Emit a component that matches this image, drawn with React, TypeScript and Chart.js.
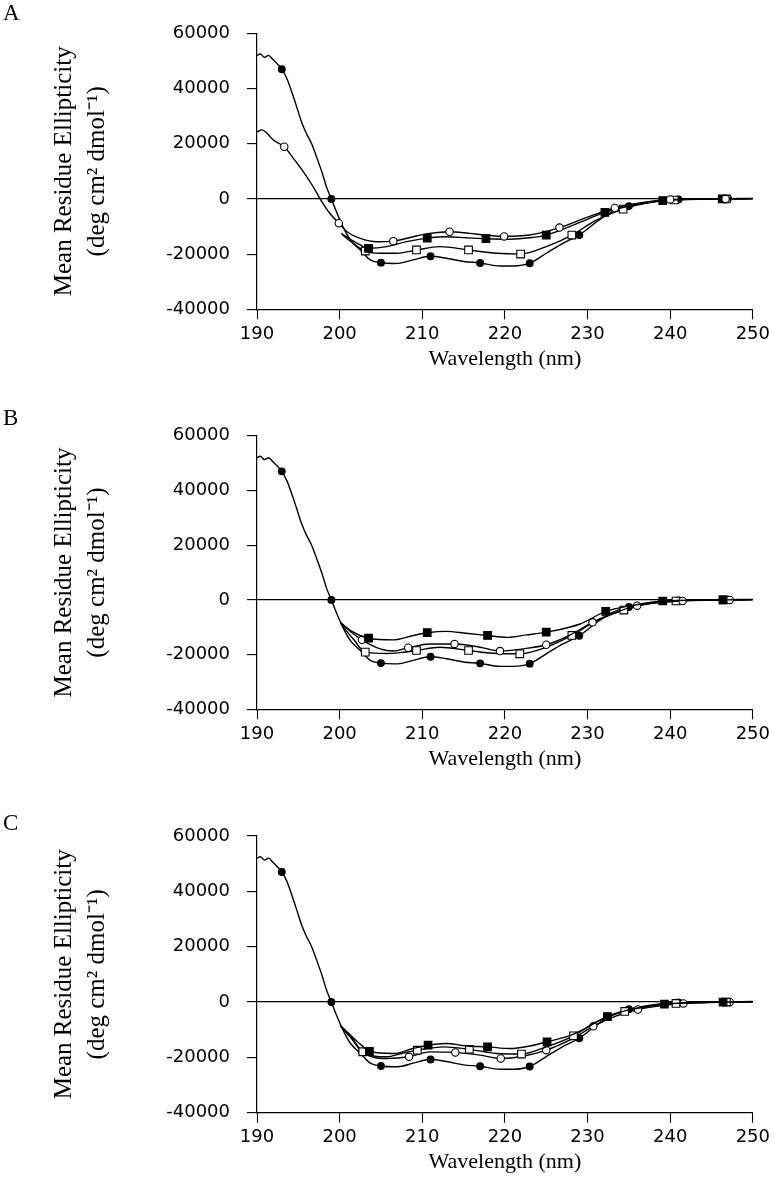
import React, { useEffect, useRef } from 'react';
import { Chart, registerables } from 'chart.js';
Chart.register(...registerables);

if (typeof document !== 'undefined' && document.body) {
  document.body.style.margin = '0';
}

// ---- shared reference curve (filled circles) ----
const refWl = [190.0, 190.4, 190.9, 191.4, 191.9, 192.4, 193.0, 193.6, 194.2, 194.8, 195.4, 196.0, 196.6, 197.2, 197.9, 198.4, 199.0, 199.6, 200.5, 201.3, 202.5, 203.7, 205.0, 206.5, 207.5, 208.9, 211.0, 212.9, 215.0, 217.0, 219.4, 221.0, 223.0, 225.0, 227.0, 229.0, 231.0, 233.0, 235.0, 237.0, 239.0, 241.0, 244.0, 247.0, 250.0];
const refVal = [52000, 52500, 51300, 52000, 50600, 49100, 47000, 43700, 38800, 33400, 27800, 23600, 20100, 15300, 9300, 4400, 0, -4600, -10700, -14900, -18500, -22100, -23100, -23400, -23200, -22100, -20800, -21500, -22700, -23200, -24300, -24300, -23300, -19700, -16100, -13100, -8500, -4600, -2600, -1400, -600, -200, 0, 100, 200];
const refMarks = [193.0, 199.0, 205.0, 211.0, 217.0, 223.0, 229.0, 235.0, 241.0, 247.0];

// ---- panel A ----
const ocAWl = [190.0, 190.6, 191.2, 192.0, 193.3, 194.4, 195.6, 196.8, 197.6, 198.8, 199.9, 200.9, 202.5, 204.5, 206.5, 208.9, 210.9, 213.3, 215.7, 217.7, 219.9, 223.0, 226.6, 230.0, 233.3, 236.5, 240.0, 246.7, 250.0];
const ocAVal = [24300, 25000, 23800, 21300, 18900, 14700, 9900, 4400, 200, -5200, -8800, -11900, -14300, -15500, -15300, -13700, -12500, -11900, -12500, -13100, -13600, -13100, -10400, -6600, -3300, -1400, -200, 0, 100];
const ocAMarks = [193.3, 199.9, 206.5, 213.3, 219.9, 226.6, 233.3, 240.0, 246.7];

const fsAWl = [200.2, 201.5, 202.5, 203.5, 205.7, 208.1, 210.6, 212.9, 215.4, 217.7, 220.6, 223.0, 225.0, 228.5, 232.1, 235.5, 239.1, 246.3, 250.0];
const fsAVal = [-12500, -15000, -16700, -17900, -17300, -15500, -14200, -13700, -14100, -14400, -14600, -14100, -13100, -9200, -4900, -2300, -600, 0, 100];
const fsAMarks = [203.5, 210.6, 217.7, 225.0, 232.1, 239.1, 246.3];

const osAWl = [200.3, 201.8, 203.1, 204.9, 206.9, 209.3, 212.1, 215.6, 219.0, 221.9, 225.0, 228.1, 231.0, 234.3, 237.0, 240.5, 246.8, 250.0];
const osAVal = [-13000, -16500, -18900, -19700, -19700, -18500, -17300, -18500, -19700, -20000, -17300, -13100, -7800, -3700, -1600, -400, 0, 100];
const osAMarks = [203.1, 209.3, 215.6, 221.9, 228.1, 234.3, 240.5, 246.8];

// ---- panel B ----
const fsBWl = [200.1, 201.5, 203.5, 206.5, 208.9, 210.6, 212.9, 215.3, 217.9, 220.2, 222.6, 225.0, 229.1, 232.2, 235.5, 239.1, 246.4, 250.0];
const fsBVal = [-8500, -11500, -14000, -14600, -13000, -12000, -11500, -12200, -13000, -13700, -12800, -11800, -8800, -4200, -2000, -400, 0, 100];
const fsBMarks = [203.5, 210.6, 217.9, 225.0, 232.2, 239.1, 246.4];

const ocBWl = [200.1, 201.5, 202.7, 204.9, 206.5, 208.3, 210.9, 213.9, 217.0, 219.4, 222.2, 225.0, 227.8, 230.6, 233.5, 236.0, 241.5, 247.2, 250.0];
const ocBVal = [-8200, -12000, -14600, -17900, -18700, -17500, -16100, -16100, -17300, -18700, -17900, -16400, -13000, -8200, -4500, -2100, -400, 0, 100];
const ocBMarks = [202.7, 208.3, 213.9, 219.4, 225.0, 230.6, 236.0, 241.5, 247.2];

const osBWl = [200.2, 201.7, 203.1, 205.7, 207.5, 209.3, 212.1, 215.6, 218.6, 221.8, 225.0, 228.1, 231.0, 234.4, 237.0, 240.7, 246.4, 250.0];
const osBVal = [-9000, -14500, -19100, -19600, -19200, -18500, -17300, -18500, -19500, -19700, -17300, -13000, -7800, -3700, -1600, -400, 0, 100];
const osBMarks = [203.1, 209.3, 215.6, 221.8, 228.1, 234.4, 240.7, 246.4];

// ---- panel C ----
const fsCWl = [200.1, 201.5, 202.6, 203.6, 206.5, 208.9, 210.7, 212.9, 215.4, 217.9, 220.6, 223.0, 225.1, 228.3, 232.4, 235.5, 239.3, 246.4, 250.0];
const fsCVal = [-8500, -12500, -15500, -17800, -18600, -16800, -15600, -15000, -15900, -16200, -16800, -15900, -14400, -11600, -5300, -2500, -800, 0, 100];
const fsCMarks = [203.6, 210.7, 217.9, 225.1, 232.4, 239.3, 246.4];

const osCWl = [200.2, 201.5, 202.8, 205.7, 207.5, 209.4, 212.6, 215.7, 219.0, 222.0, 225.0, 228.3, 231.2, 234.5, 237.5, 240.7, 246.8, 250.0];
const osCVal = [-9000, -13000, -18000, -19800, -18600, -17400, -16200, -17100, -18600, -18800, -16200, -12200, -7000, -3400, -1500, -500, 0, 100];
const osCMarks = [202.8, 209.4, 215.7, 222.0, 228.3, 234.5, 240.7, 246.8];

const ocCWl = [200.1, 201.5, 202.7, 205.7, 208.4, 210.9, 214.0, 217.0, 219.5, 222.2, 225.0, 228.0, 230.7, 233.5, 236.1, 241.6, 247.2, 250.0];
const ocCVal = [-8800, -13500, -18000, -20400, -19800, -18000, -18200, -19200, -20400, -19600, -17400, -13500, -8800, -5000, -2700, -500, 0, 100];
const ocCMarks = [202.7, 208.4, 214.0, 219.5, 225.0, 230.7, 236.1, 241.6, 247.2];

const xTicks = [190, 200, 210, 220, 230, 240, 250];
const yTicks = [-40000, -20000, 0, 20000, 40000, 60000];
const yTitle = ['Mean Residue Ellipticity', '(deg cm\u00B2 dmol\u207B\u00B9)'];
const xTitle = 'Wavelength (nm)';

type Sty = 'fc' | 'oc' | 'fs' | 'os';
interface Series { wl: number[]; val: number[]; marks: number[]; sty: Sty }

const STY: Record<Sty, { shape: string; bg: string; r: number }> = {
  fc: { shape: 'circle', bg: '#000', r: 3.4 },
  oc: { shape: 'circle', bg: '#fff', r: 3.7 },
  fs: { shape: 'rect', bg: '#000', r: 5.4 },
  os: { shape: 'rect', bg: '#fff', r: 5.4 },
};

const SERIF = '"Liberation Serif", "Times New Roman", serif';
const SANS = '"DejaVu Sans", sans-serif';

const ref: Series = { wl: refWl, val: refVal, marks: refMarks, sty: 'fc' };
const panelA: Series[] = [
  { wl: ocAWl, val: ocAVal, marks: ocAMarks, sty: 'oc' },
  { wl: fsAWl, val: fsAVal, marks: fsAMarks, sty: 'fs' },
  { wl: osAWl, val: osAVal, marks: osAMarks, sty: 'os' },
  ref,
];
const panelB: Series[] = [
  { wl: fsBWl, val: fsBVal, marks: fsBMarks, sty: 'fs' },
  { wl: ocBWl, val: ocBVal, marks: ocBMarks, sty: 'oc' },
  { wl: osBWl, val: osBVal, marks: osBMarks, sty: 'os' },
  ref,
];
const panelC: Series[] = [
  { wl: fsCWl, val: fsCVal, marks: fsCMarks, sty: 'fs' },
  { wl: osCWl, val: osCVal, marks: osCMarks, sty: 'os' },
  { wl: ocCWl, val: ocCVal, marks: ocCMarks, sty: 'oc' },
  ref,
];

interface PanelProps {
  letter: string;
  series: Series[];
  height: number;
  padTop: number;
  plotH: number;
  letterTop: number;
}

const W = 774;

function Panel({ letter, series, height, padTop, plotH, letterTop }: PanelProps) {
  const cref = useRef<HTMLCanvasElement>(null);
  useEffect(() => {
    const xh = height - padTop - plotH;
    const tb = Math.max(0, xh - 13.2 - 49.5);
    const chart = new Chart(cref.current as HTMLCanvasElement, {
      type: 'line',
      data: {
        datasets: series.map((s) => {
          const st = STY[s.sty];
          return {
            data: s.wl.map((x, i) => ({ x, y: s.val[i] })),
            borderColor: '#000',
            borderWidth: 1.4,
            fill: false,
            tension: 0.4,
            cubicInterpolationMode: 'monotone',
            pointStyle: st.shape,
            pointRadius: (c: any) => (c.raw && s.marks.includes(c.raw.x) ? st.r : 0),
            pointBackgroundColor: st.bg,
            pointBorderColor: '#000',
            pointBorderWidth: 1.1,
          } as any;
        }),
      },
      options: {
        responsive: false,
        animation: false,
        events: [],
        layout: { padding: { left: 44, right: 21, top: padTop, bottom: 0 } },
        plugins: { legend: { display: false }, tooltip: { enabled: false } },
        scales: {
          x: {
            type: 'linear',
            min: xTicks[0],
            max: xTicks[xTicks.length - 1],
            afterBuildTicks: (s: any) => { s.ticks = xTicks.map((v) => ({ value: v })); },
            ticks: { color: '#000', font: { family: SANS, size: 18 }, padding: 4, maxRotation: 0, callback: (v: any) => String(v) },
            grid: { drawOnChartArea: false, tickLength: 10, tickColor: '#000', tickWidth: 1.1 },
            border: { display: true, color: '#000', width: 1.2 },
            title: { display: true, text: xTitle, color: '#000', font: { family: SERIF, size: 22 }, padding: { top: 0, bottom: tb } },
            afterFit: (s: any) => { s.height = xh; },
          },
          y: {
            min: yTicks[0],
            max: yTicks[yTicks.length - 1],
            afterBuildTicks: (s: any) => { s.ticks = yTicks.map((v) => ({ value: v })); },
            ticks: { color: '#000', font: { family: SANS, size: 18 }, padding: 17, callback: (v: any) => String(v) },
            grid: {
              drawOnChartArea: true,
              color: (c: any) => (c.tick && c.tick.value === 0 ? '#000' : 'rgba(0,0,0,0)'),
              lineWidth: 1.2,
              tickLength: 10,
              tickColor: '#000',
              tickWidth: 1.1,
            },
            border: { display: true, color: '#000', width: 1.2 },
            title: { display: true, text: yTitle, color: '#000', font: { family: SERIF, size: 25, lineHeight: 1.32 }, padding: { top: 4, bottom: 0 } },
            afterFit: (s: any) => { s.width = 213; },
          },
        },
      } as any,
    });
    return () => chart.destroy();
  }, []);
  return (
    <div style={{ position: 'relative', width: W, height }}>
      <canvas ref={cref} width={W} height={height} style={{ display: 'block', width: W, height }} />
      <span style={{ position: 'absolute', zIndex: 2, left: 3, top: letterTop, fontFamily: SERIF, fontSize: 23, lineHeight: '23px', color: '#000' }}>{letter}</span>
    </div>
  );
}

export default function App() {
  return (
    <div style={{ width: W, overflow: 'hidden' }}>
      <Panel letter="A" series={panelA} height={408} padTop={33.3} plotH={276} letterTop={0.7} />
      <Panel letter="B" series={panelB} height={400} padTop={25.3} plotH={276} letterTop={-2.3} />
      <Panel letter="C" series={panelC} height={392} padTop={28} plotH={276.7} letterTop={2.7} />
    </div>
  );
}
